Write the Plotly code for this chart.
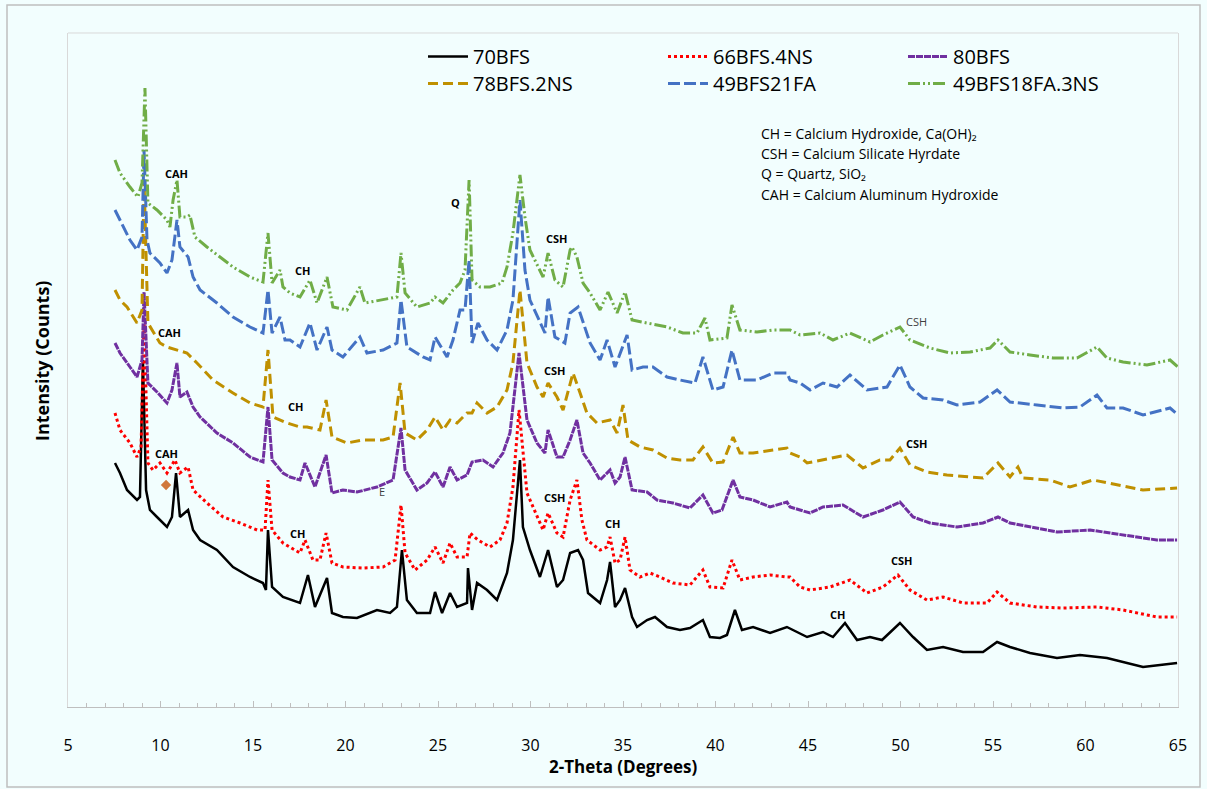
import plotly.graph_objects as go

# ---- data: (2-theta in degrees, intensity in arbitrary counts) ----
S_70BFS = [(7.54,244),(7.81,234),(8.19,217),(8.73,207),(8.89,210),(9.05,347),(9.22,217),(9.43,197),(9.81,190),(10.35,180),
    (10.62,190),(10.84,234),(11.05,190),(11.49,197),(11.76,177),(12.14,167),(13.05,157),(13.92,140),(14.84,130),(15.54,124),
    (15.70,117),(15.81,177),(16.03,120),(16.62,110),(17.54,104),(17.97,132),(18.35,100),(19.0,129),(19.27,94),(19.86,90),
    (20.62,89),(21.70,97),(22.41,94),(22.78,100),(23.05,157),(23.32,107),(23.86,94),(24.57,94),(24.84,115),(25.22,94),
    (25.65,114),(26.03,100),(26.57,104),(26.62,139),(26.84,97),(27.11,124),(27.65,117),(28.19,107),(28.73,134),(29.05,167),
    (29.43,247),(29.59,180),(29.97,157),(30.51,130),(30.95,157),(31.43,120),(31.76,127),(32.14,154),(32.57,157),(32.84,147),
    (33.11,114),(33.76,104),(34.14,127),(34.30,145),(34.57,100),(34.84,107),(35.11,119),(35.49,90),(35.76,80),(36.30,87),
    (36.73,90),(37.38,80),(38.08,77),(38.62,79),(39.32,87),(39.70,70),(40.24,69),(40.62,72),(41.05,97),(41.43,77),
    (42.03,80),(42.95,74),(43.86,80),(44.57,74),(44.95,70),(45.81,75),(46.35,70),(47.0,84),(47.65,67),(48.35,70),
    (49.0,67),(49.97,84),(50.68,70),(51.43,57),(52.30,60),(53.38,55),(54.46,55),(55.22,65),(55.92,60),(57.0,54),
    (58.46,49),(59.70,52),(61.16,49),(63.11,40),(64.95,44)]

S_66BFS_4NS = [(7.54,294),(7.81,277),(8.35,264),(8.73,250),(8.95,260),(9.11,387),(9.32,244),(9.59,237),(9.97,244),(10.35,234),
    (10.78,247),(11.05,234),(11.49,240),(11.76,217),(12.51,204),(13.38,190),(14.30,184),(15.22,177),(15.65,177),(15.81,227),
    (16.03,177),(16.62,164),(17.54,154),(17.81,167),(18.24,147),(18.62,147),(18.95,174),(19.27,144),(19.86,140),(20.95,139),
    (22.03,140),(22.68,147),(23.0,202),(23.22,154),(23.76,137),(24.41,147),(24.84,160),(25.27,144),(25.65,164),(26.03,150),
    (26.57,150),(26.73,174),(27.16,167),(27.81,160),(28.35,167),(28.73,184),(29.05,220),(29.38,297),(29.81,214),(30.35,190),
    (30.68,177),(30.95,194),(31.43,174),(31.76,170),(32.14,207),(32.51,227),(32.78,187),(33.05,167),(33.76,157),(34.14,160),
    (34.30,170),(34.57,144),(34.84,147),(35.11,170),(35.38,137),(35.92,130),(36.46,134),(37.0,130),(37.70,124),(38.62,122),
    (39.32,137),(39.70,120),(40.41,119),(40.89,147),(41.32,127),(42.03,130),(42.95,132),(43.86,130),(44.03,130),(44.57,120),
    (45.11,117),(46.19,120),(47.27,127),(48.19,114),(49.05,120),(49.86,132),(50.51,117),(51.43,107),(52.30,110),(53.38,104),
    (54.68,104),(55.22,115),(55.92,104),(57.38,100),(58.78,99),(60.62,100),(62.03,97),(63.86,90),(64.95,90)]

S_80BFS = [(7.54,364),(7.81,354),(8.35,340),(8.73,330),(9.0,347),(9.11,415),(9.32,324),(9.81,315),(10.35,304),(10.62,317),
    (10.89,344),(11.05,310),(11.43,315),(11.76,300),(12.14,290),(13.05,274),(13.92,264),(14.84,250),(15.54,245),(15.81,300),
    (16.03,247),(16.62,234),(17.0,230),(17.54,227),(17.81,244),(18.35,220),(18.95,252),(19.27,214),(19.86,217),(20.62,215),
    (21.70,220),(22.57,227),(23.0,279),(23.22,237),(23.86,217),(24.41,224),(24.84,235),(25.27,220),(25.65,240),(26.03,227),
    (26.57,232),(26.84,245),(27.43,247),(27.97,240),(28.51,254),(28.89,274),(29.38,354),(29.81,287),(30.35,264),(30.78,254),
    (30.95,277),(31.43,250),(31.76,250),(32.14,267),(32.51,287),(32.84,254),(33.22,244),(33.76,227),(34.30,237),(34.57,224),
    (34.84,230),(35.11,250),(35.49,217),(36.30,215),(36.84,207),(37.70,204),(38.62,199),(39.32,212),(39.86,194),(40.35,197),
    (40.95,227),(41.32,210),(42.03,207),(42.95,200),(43.86,205),(44.03,200),(44.57,197),(45.11,194),(45.81,200),(46.89,202),
    (47.97,190),(49.05,197),(49.97,205),(50.68,190),(51.59,184),(53.05,180),(54.46,184),(55.27,190),(55.92,184),(57.0,180),
    (58.46,175),(60.24,177),(62.03,172),(63.86,167),(64.95,167)]

S_78BFS_2NS = [(7.54,417),(7.81,407),(8.19,400),(8.73,384),(9.0,397),(9.11,527),(9.32,384),(9.97,364),(10.35,360),(10.89,357),
    (11.43,354),(11.97,344),(12.84,327),(13.92,314),(14.84,304),(15.54,300),(15.81,357),(16.08,290),(16.84,284),(17.54,280),
    (17.92,280),(18.62,277),(18.95,307),(19.27,270),(20.08,264),(20.95,267),(22.03,267),(22.57,270),(22.95,324),(23.22,274),
    (23.86,267),(24.41,277),(24.84,290),(25.27,277),(25.65,287),(26.03,284),(26.57,294),(26.84,294),(27.11,304),(27.65,294),
    (28.19,300),(28.73,317),(29.05,344),(29.43,417),(29.81,344),(30.35,320),(30.68,310),(30.95,324),(31.43,310),(31.76,297),
    (32.14,324),(32.30,334),(32.68,314),(33.05,294),(33.59,284),(34.30,287),(34.68,274),(35.0,302),(35.27,267),(35.92,260),
    (36.62,257),(37.38,249),(38.08,247),(38.78,247),(39.32,260),(39.86,244),(40.41,245),(40.95,270),(41.32,254),(42.03,254),
    (43.11,257),(43.86,259),(44.03,254),(44.57,250),(44.95,244),(45.81,247),(47.11,252),(47.97,239),(48.89,247),(49.43,247),
    (49.97,259),(50.51,242),(51.43,235),(52.51,232),(53.76,230),(54.46,229),(55.27,244),(55.92,230),(56.35,240),(56.62,229),
    (58.08,227),(59.16,220),(60.41,227),(61.70,222),(63.11,217),(64.95,219)]

S_49BFS21FA = [(7.54,497),(7.81,487),(8.35,467),(8.73,457),(9.0,470),(9.11,557),(9.27,467),(9.43,454),(9.97,444),(10.35,434),
    (10.62,447),(10.89,487),(11.05,460),(11.49,450),(11.76,430),(12.14,417),(13.05,404),(13.92,390),(14.84,380),(15.54,374),
    (15.81,417),(16.03,374),(16.46,390),(16.73,367),(17.0,367),(17.54,360),(18.08,384),(18.46,357),(19.0,380),(19.27,357),
    (19.86,350),(20.78,370),(21.16,354),(22.03,357),(22.78,364),(23.0,407),(23.32,360),(24.19,350),(24.57,347),(24.84,370),
    (25.49,350),(25.81,367),(26.19,397),(26.46,397),(26.68,447),(26.84,364),(27.16,384),(27.65,367),(28.19,357),(28.73,377),
    (29.05,407),(29.43,507),(29.70,437),(29.97,407),(30.51,384),(30.78,374),(30.95,410),(31.32,370),(31.86,364),(32.14,394),
    (32.57,400),(32.84,384),(33.22,364),(33.76,347),(34.14,367),(34.57,340),(35.22,372),(35.49,337),(36.08,340),(36.62,340),
    (37.38,330),(38.08,327),(38.89,324),(39.32,350),(39.86,317),(40.41,320),(40.89,357),(41.32,327),(42.24,327),(43.11,334),
    (43.86,334),(44.03,327),(44.57,324),(45.11,317),(45.81,324),(46.57,320),(47.27,332),(48.19,317),(49.27,320),(49.97,342),
    (50.51,320),(51.22,309),(52.30,307),(53.05,302),(54.30,305),(55.22,317),(55.92,305),(57.38,302),(58.78,299),(59.70,300),
    (60.62,312),(61.16,299),(62.03,299),(63.11,292),(64.57,299),(65.0,292)]

S_49BFS18FA_3NS = [(7.54,547),(7.81,534),(8.35,520),(8.78,510),(9.0,524),(9.16,619),(9.32,504),(9.81,497),(10.35,487),(10.51,480),
    (10.68,507),(10.89,527),(11.05,490),(11.43,490),(11.59,492),(11.86,470),(12.51,460),(13.22,450),(13.92,440),(14.84,430),
    (15.54,425),(15.81,474),(16.03,424),(16.46,437),(16.62,420),(17.0,414),(17.54,410),(18.08,427),(18.46,404),(19.0,430),
    (19.32,400),(20.08,397),(20.78,420),(21.05,404),(22.03,407),(22.78,410),(23.0,454),(23.22,414),(23.86,400),(24.57,404),
    (24.84,410),(25.27,404),(25.81,417),(26.19,424),(26.46,437),(26.68,527),(26.84,427),(27.27,420),(27.81,420),(28.46,424),
    (28.73,440),(29.05,474),(29.43,532),(29.70,490),(29.97,457),(30.41,440),(30.68,430),(30.95,454),(31.32,427),(31.76,420),
    (32.14,457),(32.24,460),(32.51,450),(32.84,424),(33.22,414),(33.76,397),(34.19,415),(34.68,394),(35.11,415),(35.49,387),
    (36.30,384),(37.38,380),(38.24,374),(39.0,374),(39.43,389),(39.70,367),(40.62,369),(40.89,402),(41.32,377),(42.24,375),
    (43.11,377),(44.03,377),(44.57,372),(45.65,374),(46.35,367),(47.27,374),(48.35,365),(49.05,372),(49.97,380),(50.51,367),
    (51.59,359),(52.68,354),(53.76,355),(54.84,359),(55.27,367),(55.92,355),(57.0,352),(58.24,349),(59.54,349),(60.62,360),
    (61.16,349),(62.03,345),(63.32,342),(64.57,347),(65.0,340)]

SERIES_NAMES = ["70BFS", "66BFS.4NS", "80BFS", "78BFS.2NS", "49BFS21FA", "49BFS18FA.3NS"]
SERIES_DATA = [S_70BFS, S_66BFS_4NS, S_80BFS, S_78BFS_2NS, S_49BFS21FA, S_49BFS18FA_3NS]
LEGEND_ROW = ["legend", "legend", "legend", "legend2", "legend2", "legend2"]

STRAY_MARK = [(10.30, 222)]

X_TICKS = [5, 10, 15, 20, 25, 30, 35, 40, 45, 50, 55, 60, 65]

# peak labels: (text, 2-theta, intensity, bold)
PEAK_LABELS = [
    ("CAH", 10.84, 534, True), ("CH", 17.65, 437, True), ("Q", 25.97, 505, True), ("CSH", 31.38, 469, True),
    ("CSH", 50.84, 386, False),
    ("CAH", 10.51, 375, True), ("CH", 17.27, 301, True), ("CSH", 31.32, 337, True), ("CSH", 50.84, 264, True),
    ("E", 21.97, 216, False),
    ("CAH", 10.35, 254, True), ("CH", 17.43, 174, True), ("CSH", 31.27, 210, True), ("CH", 34.41, 184, True),
    ("CSH", 50.08, 147, True), ("CH", 46.62, 93, True),
]

KEY_LINES = ["CH = Calcium Hydroxide, Ca(OH)₂", "CSH = Calcium Silicate Hyrdate",
             "Q = Quartz, SiO₂", "CAH = Calcium Aluminum Hydroxide"]

# ---- styles ----
STYLES = [
    dict(color="#000000", width=2.5, dash="solid"),
    dict(color="#FF0000", width=3, dash="dot"),
    dict(color="#7030A0", width=3, dash="7px,1px"),
    dict(color="#BF9000", width=3, dash="10px,5px"),
    dict(color="#4472C4", width=3, dash="12px,4px"),
    dict(color="#70AD47", width=3, dash="12px,3px,2px,3px,2px,3px"),
]

FONT = "Open Sans"
BG = "#F2FEFE"

fig = go.Figure()
for name, data, st, lg in zip(SERIES_NAMES, SERIES_DATA, STYLES, LEGEND_ROW):
    fig.add_trace(go.Scatter(
        x=[p[0] for p in data], y=[p[1] for p in data], mode="lines", name=name, legend=lg,
        line=dict(color=st["color"], width=st["width"], dash=st["dash"]),
    ))

fig.add_trace(go.Scatter(x=[p[0] for p in STRAY_MARK], y=[p[1] for p in STRAY_MARK], mode="markers",
                         marker=dict(symbol="diamond", size=8, color="#D0783C"), showlegend=False,
                         hoverinfo="skip"))

W, H = 1207, 789
ML, MR, MT, MB = 68, 29, 33, 82
pw, ph = W - ML - MR, H - MT - MB

def px_to_paper_x(px):
    return (px - ML) / pw

def py_to_paper_y(py):
    return (H - MB - py) / ph

annotations = []
for text, tx, ty, bold in PEAK_LABELS:
    annotations.append(dict(
        x=tx, y=ty, xref="x", yref="y", text=f"<b>{text}</b>" if bold else text, showarrow=False,
        font=dict(family=FONT, size=11, color="#000000" if bold else "#404040"),
    ))

for i, line in enumerate(KEY_LINES):
    annotations.append(dict(
        x=px_to_paper_x(759), y=py_to_paper_y(133 + i * 20.5), xref="paper", yref="paper",
        text=line, showarrow=False, xanchor="left", yanchor="middle",
        font=dict(family=FONT, size=14, color="#000000"),
    ))

# axis titles
annotations.append(dict(x=0.5, y=py_to_paper_y(766), xref="paper", yref="paper", showarrow=False,
                        text="<b>2-Theta (Degrees)</b>", font=dict(family=FONT, size=17),
                        xanchor="center", yanchor="middle"))
annotations.append(dict(x=px_to_paper_x(42), y=py_to_paper_y(361), xref="paper", yref="paper", showarrow=False,
                        text="<b>Intensity (Counts)</b>", font=dict(family=FONT, size=18), textangle=-90,
                        xanchor="center", yanchor="middle"))

shapes = [
    dict(type="line", xref="paper", yref="paper", x0=0, x1=1, y0=1, y1=1,
         line=dict(color="#D9D9D9", width=1)),
    dict(type="rect", xref="paper", yref="paper", x0=px_to_paper_x(7), x1=px_to_paper_x(1200),
         y0=py_to_paper_y(787), y1=py_to_paper_y(5), line=dict(color="#BFBFBF", width=1.5),
         fillcolor="rgba(0,0,0,0)", layer="below"),
]

legend_common = dict(orientation="h", xanchor="left", yanchor="top",
                     entrywidth=185, entrywidthmode="pixels", font=dict(family=FONT, size=20),
                     bgcolor="rgba(0,0,0,0)", traceorder="normal", itemwidth=40)

fig.update_layout(
    width=W, height=H,
    margin=dict(l=ML, r=MR, t=MT, b=MB, autoexpand=False),
    paper_bgcolor=BG, plot_bgcolor=BG,
    font=dict(family=FONT, color="#000000"),
    showlegend=True,
    legend=dict(x=px_to_paper_x(423), y=py_to_paper_y(37), **legend_common),
    legend2=dict(x=px_to_paper_x(423), y=py_to_paper_y(64), **legend_common),
    annotations=annotations,
    shapes=shapes,
    xaxis=dict(
        range=[5, 65], tickvals=X_TICKS, ticktext=[str(v) for v in X_TICKS],
        ticks="inside", ticklen=6, tickcolor="#BFBFBF", tickwidth=1,
        minor=dict(dtick=1, ticks="inside", ticklen=4, tickcolor="#BFBFBF"),
        showline=True, linecolor="#BFBFBF", linewidth=1, showgrid=False, zeroline=False,
        tickfont=dict(family=FONT, size=16), ticklabelstandoff=24,
    ),
    yaxis=dict(
        range=[0, 674], showticklabels=False, ticks="", showgrid=False, zeroline=False,
        showline=True, linecolor="#D9D9D9", linewidth=1, mirror=True,
    ),
)

fig.write_html("out.html")
